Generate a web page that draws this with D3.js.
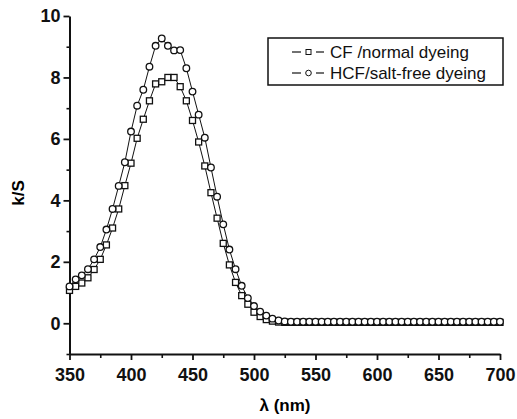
<!DOCTYPE html>
<html>
<head>
<meta charset="utf-8">
<script src="https://cdn.jsdelivr.net/npm/d3@7"></script>
<style>
  body { margin: 0; background: #fff; }
  svg { display: block; }
  .tick text { font-family: "Liberation Sans", Arial, sans-serif; font-weight: bold; font-size: 18px; fill: #111; }
</style>
</head>
<body>
<div id="chart"></div>
<script>
// wavelength (nm)
var wavelengths = [350,355,360,365,370,375,380,385,390,395,400,405,410,415,420,425,430,435,440,445,
  450,455,460,465,470,475,480,485,490,495,500,505,510,515,520,525,530,535,540,545,
  550,555,560,565,570,575,580,585,590,595,600,605,610,615,620,625,630,635,640,645,
  650,655,660,665,670,675,680,685,690,695,700];

// k/S, CF / normal dyeing (squares)
var cfValues = [1.07,1.2,1.31,1.48,1.75,2.08,2.55,3.1,3.72,4.48,5.21,6.02,6.64,7.24,7.79,7.86,8.0,8.0,7.7,7.24,
  6.6,5.9,5.12,4.25,3.42,2.6,1.9,1.33,0.9,0.62,0.36,0.22,0.12,0.07,0.04,0.03,0.03,0.03,0.03,0.03,
  0.03,0.03,0.03,0.03,0.03,0.03,0.03,0.03,0.03,0.03,0.03,0.03,0.03,0.03,0.03,0.03,0.03,0.03,0.03,0.03,
  0.03,0.03,0.03,0.03,0.03,0.03,0.03,0.03,0.03,0.03,0.03];

// k/S, HCF / salt-free dyeing (circles)
var hcfValues = [1.2,1.43,1.56,1.76,2.08,2.48,3.05,3.72,4.47,5.24,6.24,7.08,7.6,8.35,9.03,9.27,9.03,8.88,8.89,8.3,
  7.54,6.79,6.04,5.07,4.12,3.22,2.4,1.76,1.22,0.82,0.56,0.38,0.25,0.15,0.09,0.06,0.05,0.05,0.05,0.05,
  0.05,0.05,0.05,0.05,0.05,0.05,0.05,0.05,0.05,0.05,0.05,0.05,0.05,0.05,0.05,0.05,0.05,0.05,0.05,0.05,
  0.05,0.05,0.05,0.05,0.05,0.05,0.05,0.05,0.05,0.05,0.05];

var xTicks = [350,400,450,500,550,600,650,700];
var xMinorTicks = [375,425,475,525,575,625,675];
var yTicks = [0,2,4,6,8,10];
var yMinorTicks = [-1,1,3,5,7,9];
var seriesNames = ["CF /normal dyeing", "HCF/salt-free dyeing"];

var width = 517, height = 419;
var margin = {top: 16, right: 17, bottom: 65, left: 69.5};

var svg = d3.select("#chart").append("svg")
  .attr("width", width).attr("height", height);

var x = d3.scaleLinear().domain([350, 700]).range([margin.left, width - margin.right]);
var y = d3.scaleLinear().domain([-1, 10]).range([height - margin.bottom, margin.top]);

// minor ticks
svg.append("g")
  .attr("transform", "translate(0," + y(-1) + ")")
  .call(d3.axisBottom(x).tickValues(xMinorTicks).tickSize(4).tickFormat(""))
  .call(function(g) { g.select(".domain").remove(); g.selectAll("line").attr("stroke-width", 1.6).attr("stroke", "#111"); });
svg.append("g")
  .attr("transform", "translate(" + x(350) + ",0)")
  .call(d3.axisLeft(y).tickValues(yMinorTicks).tickSize(3).tickFormat(""))
  .call(function(g) { g.select(".domain").remove(); g.selectAll("line").attr("stroke-width", 1.6).attr("stroke", "#111"); });

// X axis
var xAxis = svg.append("g")
  .attr("transform", "translate(0," + y(-1) + ")")
  .call(d3.axisBottom(x).tickValues(xTicks).tickSize(6).tickPadding(8).tickSizeOuter(0));
xAxis.select(".domain").attr("stroke-width", 2).attr("stroke", "#111");
xAxis.selectAll("line").attr("stroke-width", 1.8).attr("stroke", "#111");

// Y axis
var yAxis = svg.append("g")
  .attr("transform", "translate(" + x(350) + ",0)")
  .call(d3.axisLeft(y).tickValues(yTicks).tickSize(6).tickPadding(3).tickSizeOuter(0));
yAxis.select(".domain").attr("stroke-width", 2).attr("stroke", "#111");
yAxis.selectAll("line").attr("stroke-width", 1.8).attr("stroke", "#111");

// axis titles
svg.append("text")
  .attr("x", 285).attr("y", 411)
  .attr("text-anchor", "middle")
  .style("font-family", "Liberation Sans, Arial, sans-serif").style("font-weight", "bold").style("font-size", "17px")
  .text("λ (nm)");
svg.append("text")
  .attr("transform", "translate(24,193) rotate(-90)")
  .attr("text-anchor", "middle")
  .style("font-family", "Liberation Sans, Arial, sans-serif").style("font-weight", "bold").style("font-size", "17px")
  .text("k/S");

var line = d3.line()
  .x(function(d) { return x(d[0]); })
  .y(function(d) { return y(d[1]); });

var cfData = wavelengths.map(function(w, i) { return [w, cfValues[i]]; });
var hcfData = wavelengths.map(function(w, i) { return [w, hcfValues[i]]; });

function drawSeries(data, shape) {
  svg.append("path").datum(data)
    .attr("d", line).attr("fill", "none").attr("stroke", "#111").attr("stroke-width", 1);
  if (shape == "square") {
    svg.selectAll(null).data(data).enter().append("rect")
      .attr("x", function(d) { return x(d[0]) - 3; })
      .attr("y", function(d) { return y(d[1]) - 3; })
      .attr("width", 6).attr("height", 6)
      .attr("fill", "#fff").attr("stroke", "#111").attr("stroke-width", 1.3);
  } else {
    svg.selectAll(null).data(data).enter().append("circle")
      .attr("cx", function(d) { return x(d[0]); })
      .attr("cy", function(d) { return y(d[1]); })
      .attr("r", 3.3)
      .attr("fill", "#fff").attr("stroke", "#111").attr("stroke-width", 1.3);
  }
}
drawSeries(cfData, "square");
drawSeries(hcfData, "circle");

// Legend
var legend = svg.append("g");
legend.append("rect")
  .attr("x", 268).attr("y", 38).attr("width", 235).attr("height", 47)
  .attr("fill", "#fff").attr("stroke", "#111").attr("stroke-width", 1.5);
seriesNames.forEach(function(name, i) {
  var ly = 52 + i * 21;
  legend.append("line").attr("x1", 292).attr("x2", 301).attr("y1", ly).attr("y2", ly)
    .attr("stroke", "#111").attr("stroke-width", 1.2);
  legend.append("line").attr("x1", 316).attr("x2", 324).attr("y1", ly).attr("y2", ly)
    .attr("stroke", "#111").attr("stroke-width", 1.2);
  if (i == 0) {
    legend.append("rect").attr("x", 306).attr("y", ly - 2.5).attr("width", 5).attr("height", 5)
      .attr("fill", "#fff").attr("stroke", "#111").attr("stroke-width", 1);
  } else {
    legend.append("circle").attr("cx", 308.5).attr("cy", ly).attr("r", 2.8)
      .attr("fill", "#fff").attr("stroke", "#111").attr("stroke-width", 1);
  }
  legend.append("text")
    .attr("x", 330).attr("y", ly + 6)
    .style("font-family", "Liberation Sans, Arial, sans-serif").style("font-size", "17px").style("fill", "#111")
    .text(name);
});
</script>
</body>
</html>
